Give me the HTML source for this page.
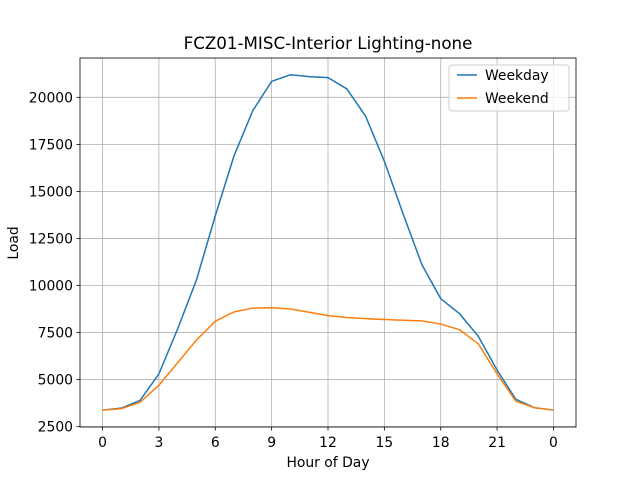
<!DOCTYPE html>
<html><head><meta charset="utf-8"><style>body{margin:0;background:#fff}svg{font-family:"DejaVu Sans","Liberation Sans",sans-serif}</style></head>
<body>
<svg id="chart" width="640" height="480" xmlns="http://www.w3.org/2000/svg"></svg>
<script>
const hours = [0,1,2,3,4,5,6,7,8,9,10,11,12,13,14,15,16,17,18,19,20,21,22,23,24];
const weekday = [3380,3480,3900,5300,7700,10300,13700,16900,19300,20850,21200,21100,21050,20450,19000,16600,13800,11100,9300,8500,7300,5500,3950,3500,3380];
const weekend = [3380,3450,3800,4700,5900,7100,8100,8600,8800,8820,8750,8580,8400,8300,8240,8190,8150,8120,7950,7650,6900,5300,3850,3500,3380];
const xTicks = [0,3,6,9,12,15,18,21,24];
const xTickLabels = ["0","3","6","9","12","15","18","21","0"];
const yTicks = [2500,5000,7500,10000,12500,15000,17500,20000];

const svg = document.getElementById('chart');
const NS = 'http://www.w3.org/2000/svg';
const L=80,R=576,T=58,B=427, xmin=-1.2,xmax=25.2, ymin=2480,ymax=22090;
const xs = v => L+(v-xmin)/(xmax-xmin)*(R-L);
const ys = v => B-(v-ymin)/(ymax-ymin)*(B-T);
function mk(tag, attrs, parent){const e=document.createElementNS(NS,tag);for(const k in attrs)e.setAttribute(k,attrs[k]);(parent||svg).appendChild(e);return e;}

xTicks.forEach((t,i)=>{
  const x=xs(t);
  const g=mk('line',{x1:x,x2:x,y1:T,y2:B,stroke:'#b0b0b0','stroke-width':0.8});
  
  
  mk('line',{x1:x,x2:x,y1:B,y2:B+3.5,stroke:'#000','stroke-width':0.8});
  const tx=mk('text',{x:x,y:B+20,'font-size':13.9,'text-anchor':'middle'});
  tx.textContent=xTickLabels[i];
  
  
});
yTicks.forEach(t=>{
  const y=ys(t);
  const g=mk('line',{x1:L,x2:R,y1:y,y2:y,stroke:'#b0b0b0','stroke-width':0.8});
  
  
  mk('line',{x1:L-3.5,x2:L,y1:y,y2:y,stroke:'#000','stroke-width':0.8});
  const tx=mk('text',{x:L-7,y:y+5,'font-size':13.9,'text-anchor':'end'});
  tx.textContent=t;
  
  
});
function series(vals,color,name){
  const p=mk('polyline',{points:hours.map((h,i)=>xs(h)+','+ys(vals[i])).join(' '),fill:'none',stroke:color,'stroke-width':1.5});
  
  
}
series(weekday,'#1f77b4','weekday-line');
series(weekend,'#ff7f0e','weekend-line');
mk('rect',{x:L,y:T,width:R-L,height:B-T,fill:'none',stroke:'#000','stroke-width':0.8});
</script>
<svg width="640" height="480" style="position:absolute;left:0;top:0" xmlns="http://www.w3.org/2000/svg">
  <text x="328" y="49" font-size="16.7" text-anchor="middle">FCZ01-MISC-Interior Lighting-none</text>
  <text x="328" y="467" font-size="13.9" text-anchor="middle">Hour of Day</text>
  <text x="18" y="243" font-size="13.9" text-anchor="middle" transform="rotate(-90 18 243)">Load</text>
  <g>
    <rect x="449" y="65" width="120" height="46" rx="3" fill="#fff" fill-opacity="0.8" stroke="#ccc"/>
    <line x1="457" x2="477" y1="75" y2="75" stroke="#1f77b4" stroke-width="1.5"/>
    <text x="485" y="80" font-size="13.9">Weekday</text>
    <line x1="457" x2="477" y1="98" y2="98" stroke="#ff7f0e" stroke-width="1.5"/>
    <text x="485" y="103" font-size="13.9">Weekend</text>
  </g>
</svg>
</body></html>
